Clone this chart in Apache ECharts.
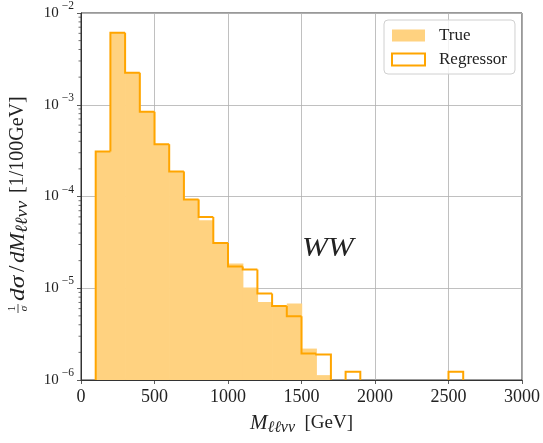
<!DOCTYPE html>
<html><head><meta charset="utf-8">
<script src="https://cdn.jsdelivr.net/npm/echarts@6/dist/echarts.min.js"></script>
<style>html,body{margin:0;padding:0;background:#fff}#c{width:543px;height:443px}</style>
</head><body><div id="c"></div>
<script>
// ---- data ----
const binWidth = 100;
const binStarts = [100,200,300,400,500,600,700,800,900,1000,1100,1200,1300,1400,1500,1600,1700,1800,1900,2000,2100,2200,2300,2400,2500];
const trueValues = [3.1e-4,6.1e-3,2.23e-3,8.4e-4,3.7e-4,1.87e-4,9.4e-5,5.5e-5,3.1e-5,1.86e-5,1.02e-5,7.1e-6,6.3e-6,6.8e-6,2.2e-6,1.13e-6,0,0,0,0,0,0,0,0,0];
const regressorValues = [3.1e-4,6.1e-3,2.23e-3,8.4e-4,3.7e-4,1.87e-4,9.3e-5,5.96e-5,3.11e-5,1.73e-5,1.6e-5,8.75e-6,6.4e-6,4.96e-6,1.95e-6,1.9e-6,0,1.23e-6,0,0,0,0,0,0,1.23e-6];
const xTicks = [0,500,1000,1500,2000,2500,3000];
const yExponents = [-6,-5,-4,-3,-2];
const annotation = 'WW';

const YMIN = Math.pow(10, yExponents[0]);
const YMAX = Math.pow(10, yExponents[yExponents.length-1]);
const SERIF = '"Liberation Serif", "DejaVu Serif", serif';
const FILL = '#FFD280', LINE = '#FFA500', INK = '#222';

const trueData = [];
binStarts.forEach((s,i)=>{ if(trueValues[i]>0) trueData.push([s, s+binWidth, trueValues[i]]); });
const regData = [];
binStarts.forEach((s,i)=>{
  const v = regressorValues[i];
  if(v>0) regData.push([s, s+binWidth, v, i>0?regressorValues[i-1]:0, i<binStarts.length-1?regressorValues[i+1]:0]);
});
const minorTicks = [];
for(let e=yExponents[0]; e<yExponents[yExponents.length-1]; e++){
  for(let m=2;m<=9;m++) minorTicks.push([0, m*Math.pow(10,e)]);
}

function renderTrue(params, api){
  const x0=api.value(0), x1=api.value(1), v=api.value(2);
  const p0=api.coord([x0,v]), p1=api.coord([x1,YMIN]);
  return {type:'rect', shape:{x:p0[0], y:p0[1], width:p1[0]-p0[0]+0.7, height:p1[1]-p0[1]}, style:{fill:FILL}};
}
function renderReg(params, api){
  const x0=api.value(0), x1=api.value(1), v=api.value(2), pv=api.value(3), nv=api.value(4);
  const base=api.coord([x0,YMIN])[1];
  const a=api.coord([x0,v]), b=api.coord([x1,v]);
  const startY = pv>0 ? api.coord([x0,pv])[1] : base;
  const pts=[[a[0],startY],a,b];
  if(!(nv>0)) pts.push([b[0],base]);
  return {type:'polyline', shape:{points:pts}, style:{stroke:LINE, lineWidth:2, fill:null, lineJoin:'miter'}};
}
function renderMinor(params, api){
  const p=api.coord([xTicks[0], api.value(1)]);
  return {type:'line', shape:{x1:p[0]-2.5,y1:p[1],x2:p[0],y2:p[1]}, style:{stroke:'#333', lineWidth:0.7}};
}
function txt(x, y, text, font, extra, sx){
  return {type:'text', x:x, y:y, scaleX:sx||1, style:Object.assign({text:text, font:font, fill:INK,
    align:'left', verticalAlign:'middle', textAlign:'left', textVerticalAlign:'middle'}, extra||{})};
}

const chart = echarts.init(document.getElementById('c'), null, {renderer:'canvas'});
chart.setOption({
  animation:false,
  backgroundColor:'#fff',
  grid:{left:81, right:20, top:12, bottom:63, show:true, borderColor:'#333', borderWidth:1, backgroundColor:'transparent'},
  xAxis:{
    type:'value', min:xTicks[0], max:xTicks[xTicks.length-1], interval:500,
    axisLine:{show:true, lineStyle:{color:'#333', width:1}},
    axisTick:{show:true, inside:false, length:4, lineStyle:{color:'#333', width:0.8}},
    axisLabel:{fontFamily:SERIF, fontSize:18, color:INK, margin:8, formatter:function(v){return String(v);}},
    splitLine:{show:true, lineStyle:{color:'#b0b0b0', width:0.8}},
    name:'{i|M}{s|ℓℓνν}{r|  [GeV]}', nameLocation:'middle', nameGap:31,
    nameTextStyle:{rich:{
      i:{fontFamily:SERIF, fontStyle:'italic', fontSize:21, color:INK},
      s:{fontFamily:SERIF, fontStyle:'italic', fontSize:16, color:INK, padding:[9,0,0,0]},
      r:{fontFamily:SERIF, fontSize:19, color:INK}
    }}
  },
  yAxis:{
    type:'log', logBase:10, min:YMIN, max:YMAX,
    axisLine:{show:true, lineStyle:{color:'#333', width:1}},
    axisTick:{show:true, inside:false, length:4, lineStyle:{color:'#333', width:0.8}},
    axisLabel:{margin:7, formatter:function(v){
        const e=Math.round(Math.log10(v));
        return '{b|10}{s|−'+Math.abs(e)+'}';
      },
      rich:{
        b:{fontFamily:SERIF, fontSize:15, color:INK},
        s:{fontFamily:SERIF, fontSize:11.5, color:INK, padding:[0,0,14,3]}
      }},
    splitLine:{show:true, lineStyle:{color:'#b0b0b0', width:0.8}},
    minorTick:{show:false}
  },
  legend:{
    left:384, top:20, orient:'vertical', itemWidth:33, itemHeight:12, itemGap:7,
    padding:[7,8,6,7], borderColor:'#d0d0d0', borderWidth:1, borderRadius:4,
    backgroundColor:'rgba(255,255,255,0.8)',
    textStyle:{fontFamily:SERIF, fontSize:17, color:INK, padding:[0,0,0,9], lineHeight:16},
    data:[
      {name:'True', icon:'rect', itemStyle:{color:FILL, borderWidth:0}},
      {name:'Regressor', icon:'rect', itemStyle:{color:'#fff', borderColor:LINE, borderWidth:2}}
    ]
  },
  series:[
    {name:'True', type:'custom', renderItem:renderTrue, data:trueData, encode:{x:[0,1], y:2}, itemStyle:{color:FILL}, z:2, silent:true},
    {name:'Regressor', type:'custom', renderItem:renderReg, data:regData, encode:{x:[0,1], y:2}, itemStyle:{color:LINE}, z:3, silent:true},
    {name:'minor', type:'custom', renderItem:renderMinor, data:minorTicks, encode:{x:0, y:1}, clip:false, z:4, silent:true}
  ],
  graphic:[
    {type:'text', x:302, y:249, scaleX:1.15, style:{text:annotation, font:'italic 27px '+SERIF, fill:INK,
      align:'left', verticalAlign:'middle', textAlign:'left', textVerticalAlign:'middle'}},
    {type:'group', x:18, y:205, rotation:Math.PI/2, children:[
      txt(-103.5, -6, '1', '11px '+SERIF, {align:'center', textAlign:'center'}),
      {type:'line', shape:{x1:-108, y1:0, x2:-99, y2:0}, style:{stroke:INK, lineWidth:0.8}},
      txt(-103.5, 6, 'σ', 'italic 11px '+SERIF, {align:'center', textAlign:'center'}),
      txt(-96, 0, 'dσ', 'italic 22px '+SERIF, null, 1.15),
      txt(-67, 0, '/', '23px '+SERIF),
      txt(-58, 0, 'dM', 'italic 22px '+SERIF, null, 1.03),
      txt(-28, 5, 'ℓℓνν', 'italic 17px '+SERIF, null, 1.1),
      txt(12, 0, '[1/100GeV]', '20px '+SERIF)
    ]}
  ]
});
</script></body></html>
